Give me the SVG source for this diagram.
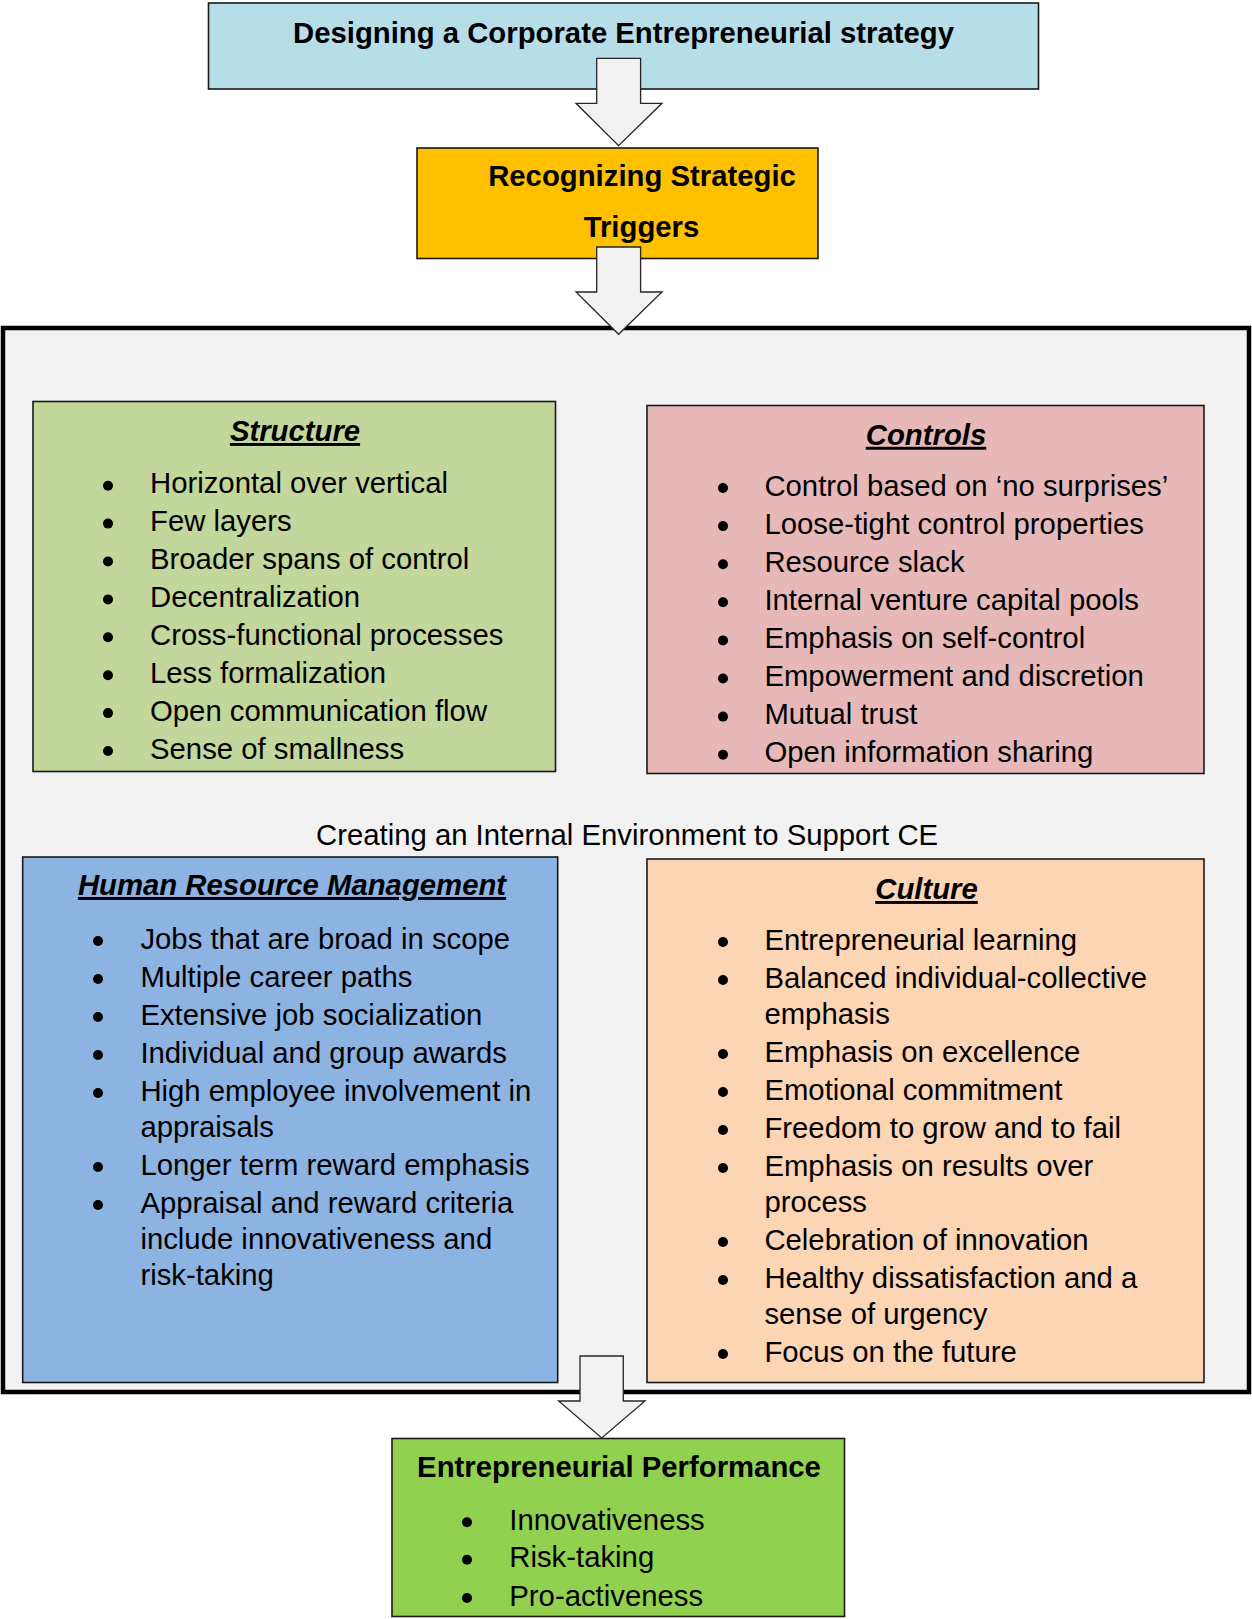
<svg xmlns="http://www.w3.org/2000/svg" width="1252" height="1619" viewBox="0 0 1252 1619">
<style>
text{font-family:"Liberation Sans",Arial,sans-serif;font-size:29.3px;fill:#000}
.b{font-weight:bold}
.h{font-weight:bold;font-style:italic;text-decoration:underline}
.box{stroke:#1a1a1a;stroke-width:1.6}
.arrow{fill:#F2F2F2;stroke:#262626;stroke-width:1.3;stroke-linejoin:miter}
circle{fill:#000}
</style>
<rect x="0" y="0" width="1252" height="1619" fill="#ffffff"/>
<g id="top">
<rect class="box" x="208.5" y="3" width="830" height="86" fill="#B7DEE8"/>
<text class="b" x="623.5" y="42.5" text-anchor="middle">Designing a Corporate Entrepreneurial strategy</text>
</g>
<g id="triggers">
<rect class="box" x="417" y="148" width="401" height="110.5" fill="#FFC000"/>
<text class="b" x="642" y="185.5" text-anchor="middle">Recognizing Strategic</text>
<text class="b" x="641.5" y="236.5" text-anchor="middle">Triggers</text>
</g>
<g id="environment">
<rect x="3" y="328" width="1246" height="1064" fill="#F2F2F2" stroke="#000" stroke-width="4.5"/>
<text x="316" y="845">Creating an Internal Environment to Support CE</text>
</g>
<g id="structure">
<rect class="box" x="33" y="401.5" width="522.5" height="370" fill="#C3D69B"/>
<text class="h" x="295" y="441" text-anchor="middle">Structure</text>
<g>
<circle cx="108" cy="485.7" r="5"/><circle cx="108" cy="523.6" r="5"/><circle cx="108" cy="561.5" r="5"/><circle cx="108" cy="599.4" r="5"/><circle cx="108" cy="637.3" r="5"/><circle cx="108" cy="675.2" r="5"/><circle cx="108" cy="713.1" r="5"/><circle cx="108" cy="751" r="5"/>
</g>
<text x="150" y="493.2">Horizontal over vertical</text>
<text x="150" y="531.1">Few layers</text>
<text x="150" y="569">Broader spans of control</text>
<text x="150" y="606.9">Decentralization</text>
<text x="150" y="644.8">Cross-functional processes</text>
<text x="150" y="682.7">Less formalization</text>
<text x="150" y="720.6">Open communication flow</text>
<text x="150" y="758.5">Sense of smallness</text>
</g>
<g id="controls">
<rect class="box" x="647" y="405.5" width="557" height="368" fill="#E6B9B8"/>
<text class="h" x="926" y="444.8" text-anchor="middle">Controls</text>
<g>
<circle cx="723" cy="488" r="5"/><circle cx="723" cy="526.1" r="5"/><circle cx="723" cy="564.2" r="5"/><circle cx="723" cy="602.3" r="5"/><circle cx="723" cy="640.4" r="5"/><circle cx="723" cy="678.5" r="5"/><circle cx="723" cy="716.6" r="5"/><circle cx="723" cy="754.7" r="5"/>
</g>
<text x="764.4" y="495.5">Control based on ‘no surprises’</text>
<text x="764.4" y="533.6">Loose-tight control properties</text>
<text x="764.4" y="571.7">Resource slack</text>
<text x="764.4" y="609.8">Internal venture capital pools</text>
<text x="764.4" y="647.9">Emphasis on self-control</text>
<text x="764.4" y="686">Empowerment and discretion</text>
<text x="764.4" y="724.1">Mutual trust</text>
<text x="764.4" y="762.2">Open information sharing</text>
</g>
<g id="hrm">
<rect class="box" x="22.7" y="857" width="535" height="525.5" fill="#8DB3E2"/>
<text class="h" x="292" y="895" text-anchor="middle">Human Resource Management</text>
<g>
<circle cx="98" cy="941" r="5"/><circle cx="98" cy="979" r="5"/><circle cx="98" cy="1017" r="5"/><circle cx="98" cy="1055" r="5"/><circle cx="98" cy="1093" r="5"/><circle cx="98" cy="1167" r="5"/><circle cx="98" cy="1205" r="5"/>
</g>
<text x="140.4" y="948.5">Jobs that are broad in scope</text>
<text x="140.4" y="986.5">Multiple career paths</text>
<text x="140.4" y="1024.5">Extensive job socialization</text>
<text x="140.4" y="1062.5">Individual and group awards</text>
<text x="140.4" y="1100.5">High employee involvement in</text>
<text x="140.4" y="1136.5">appraisals</text>
<text x="140.4" y="1174.5">Longer term reward emphasis</text>
<text x="140.4" y="1212.5">Appraisal and reward criteria</text>
<text x="140.4" y="1248.5">include innovativeness and</text>
<text x="140.4" y="1284.5">risk-taking</text>
</g>
<g id="culture">
<rect class="box" x="647" y="859" width="557" height="523.5" fill="#FCD5B5"/>
<text class="h" x="926.5" y="899" text-anchor="middle">Culture</text>
<g>
<circle cx="723" cy="942" r="5"/><circle cx="723" cy="980" r="5"/><circle cx="723" cy="1054" r="5"/><circle cx="723" cy="1092" r="5"/><circle cx="723" cy="1130" r="5"/><circle cx="723" cy="1168" r="5"/><circle cx="723" cy="1242" r="5"/><circle cx="723" cy="1280" r="5"/><circle cx="723" cy="1354" r="5"/>
</g>
<text x="764.4" y="949.5">Entrepreneurial learning</text>
<text x="764.4" y="987.5">Balanced individual-collective</text>
<text x="764.4" y="1023.5">emphasis</text>
<text x="764.4" y="1061.5">Emphasis on excellence</text>
<text x="764.4" y="1099.5">Emotional commitment</text>
<text x="764.4" y="1137.5">Freedom to grow and to fail</text>
<text x="764.4" y="1175.5">Emphasis on results over</text>
<text x="764.4" y="1211.5">process</text>
<text x="764.4" y="1249.5">Celebration of innovation</text>
<text x="764.4" y="1287.5">Healthy dissatisfaction and a</text>
<text x="764.4" y="1323.5">sense of urgency</text>
<text x="764.4" y="1361.5">Focus on the future</text>
</g>
<g id="performance">
<rect class="box" x="392" y="1438.5" width="452.5" height="178" fill="#92D050"/>
<text class="b" x="619" y="1476.5" text-anchor="middle">Entrepreneurial Performance</text>
<circle cx="467" cy="1522.3" r="5"/><circle cx="467" cy="1559.7" r="5"/><circle cx="467" cy="1598" r="5"/>
<text x="509.3" y="1529.8">Innovativeness</text>
<text x="509.3" y="1567.2">Risk-taking</text>
<text x="509.3" y="1605.5">Pro-activeness</text>
</g>
<g id="connectors">
<polygon class="arrow" points="596.7,58.3 640.6,58.3 640.6,103.3 662,103.3 618.6,145.7 576,103.3 596.7,103.3"/>
<polygon class="arrow" points="596.7,247 640.6,247 640.6,292 662,292 618.6,334.3 576,292 596.7,292"/>
<polygon class="arrow" points="580,1356 623.3,1356 623.3,1401 645,1401 601.7,1438 558.7,1401 580,1401"/>
</g>
</svg>
